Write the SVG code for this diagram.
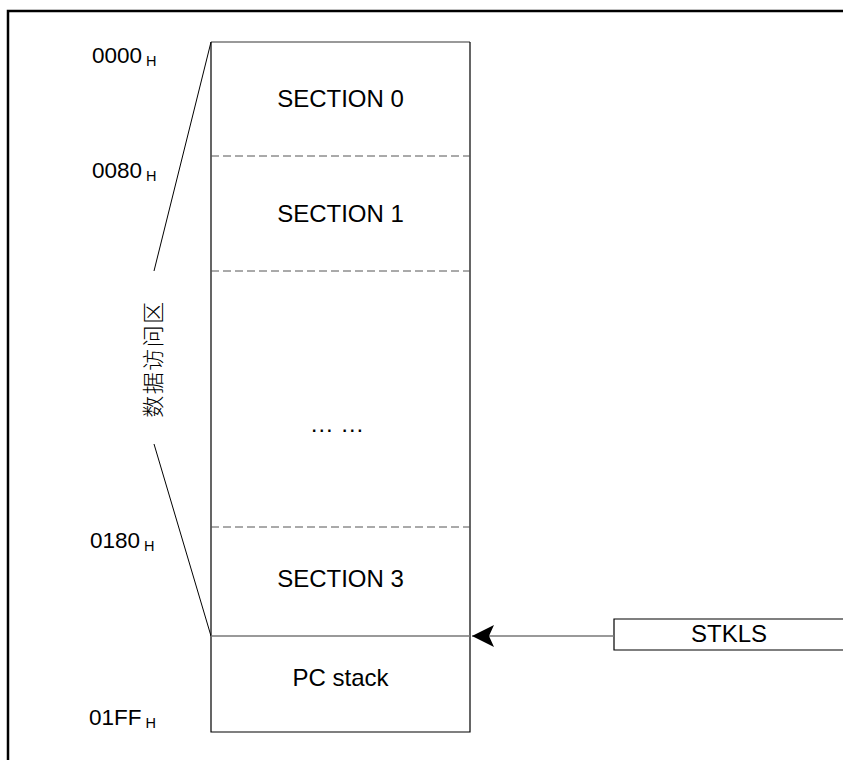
<svg xmlns="http://www.w3.org/2000/svg" width="843" height="760" viewBox="0 0 843 760">
<style>
.t{font-family:"Liberation Sans",Arial,sans-serif;font-size:24px;fill:#000}
.lab{font-family:"Liberation Sans",Arial,sans-serif;font-size:22.5px;fill:#000}
.sub{font-size:14.5px}
.dash{stroke:#555;stroke-width:1;stroke-dasharray:8 4;fill:none}
.edge{stroke:#000;stroke-width:1.2;fill:none}
.grey{stroke:#777;stroke-width:1.5;fill:none}
.cjk{font-family:"Liberation Serif","Noto Sans CJK SC",serif;font-size:22px;font-weight:300;fill:#000}
</style>
<defs>
<marker id="ah" viewBox="0 0 22 22" refX="22" refY="11" markerWidth="22" markerHeight="22" markerUnits="userSpaceOnUse" orient="auto">
<path d="M22,11 L0,0 L5,11 L0,22 Z" fill="#000"/>
</marker>
</defs>
<rect width="843" height="760" fill="#fff"/>
<g id="frame">
<path d="M8,760 L8,11 L843,11" stroke="#000" stroke-width="2.5" fill="none"/>
</g>
<g id="labels">
<text class="lab" x="92" y="63">0000<tspan class="sub" dx="4" dy="3">H</tspan></text>
<text class="lab" x="92" y="178">0080<tspan class="sub" dx="4" dy="3">H</tspan></text>
<text class="lab" x="90" y="548">0180<tspan class="sub" dx="4" dy="3">H</tspan></text>
<text class="lab" x="89" y="725">01FF<tspan class="sub" dx="4" dy="3">H</tspan></text>
</g>
<g id="range">
<line x1="211" y1="42" x2="154" y2="271" stroke="#000" stroke-width="1"/>
<line x1="154" y1="444" x2="211" y2="636" stroke="#000" stroke-width="1"/>
<text class="cjk" transform="translate(161,359) rotate(-90)" text-anchor="middle" letter-spacing="1.5">数据访问区</text>
</g>
<g id="memory">
<line class="grey" x1="211" y1="42" x2="470" y2="42"/>
<path class="edge" d="M211,42 L211,732 L470,732 L470,42"/>
<line class="dash" x1="211" y1="156" x2="470" y2="156"/>
<line class="dash" x1="211" y1="271" x2="470" y2="271"/>
<line class="dash" x1="211" y1="527" x2="470" y2="527"/>
<line class="grey" x1="211" y1="636" x2="470" y2="636"/>
</g>
<g id="section0"><text class="t" x="340.5" y="107" text-anchor="middle">SECTION 0</text></g>
<g id="section1"><text class="t" x="340.5" y="222" text-anchor="middle">SECTION 1</text></g>
<g id="ellipsis"><text class="t" x="337" y="432" text-anchor="middle">… …</text></g>
<g id="section3"><text class="t" x="340.5" y="587" text-anchor="middle">SECTION 3</text></g>
<g id="pcstack"><text class="t" x="340.5" y="686" text-anchor="middle">PC stack</text></g>
<g id="stkls">
<path d="M843,619 L614,619 L614,650 L843,650" stroke="#000" stroke-width="1.2" fill="#fff"/>
<text class="t" x="729" y="642" text-anchor="middle">STKLS</text>
</g>
<g id="connectors">
<line class="grey" x1="614" y1="636" x2="472" y2="636" marker-end="url(#ah)"/>
</g>
</svg>
